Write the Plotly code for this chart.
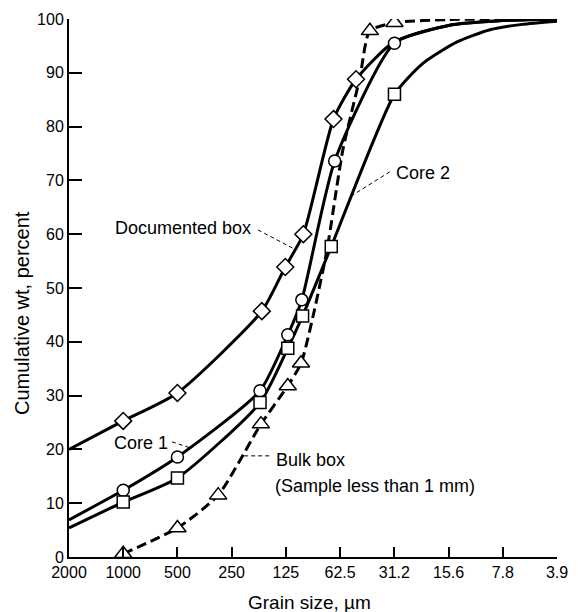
import math

import plotly.graph_objects as go

# grain size ticks (um) and their printed labels
tick_sizes = [2000, 1000, 500, 250, 125, 62.5, 31.25, 15.625, 7.8125, 3.90625]
tick_labels = ["2000", "1000", "500", "250", "125", "62.5", "31.2", "15.6", "7.8", "3.9"]

# measured points (markers)
doc_x = [1000, 500, 170, 126, 100, 68, 51]
doc_y = [25.3, 30.5, 45.7, 53.9, 60.0, 81.4, 88.8]

core1_x = [1000, 500, 174, 122, 102, 67, 31.2]
core1_y = [12.4, 18.6, 30.9, 41.3, 47.8, 73.6, 95.5]

core2_x = [1000, 500, 174, 122, 101, 70, 31.2]
core2_y = [10.2, 14.7, 28.7, 38.8, 44.8, 57.7, 86.0]

bulk_x = [1000, 500, 297, 172, 122, 103, 42.7, 31.2]
bulk_y = [0.6, 5.4, 11.5, 24.7, 31.8, 36.0, 97.8, 99.3]

# unmarked points the drawn curves also pass through
doc_start_x, doc_start_y = [2000], [20.0]
doc_end_x, doc_end_y = [31.5, 15.6, 7.8, 3.9], [95.7, 98.8, 99.7, 100.0]

core1_start_x, core1_start_y = [2000], [6.9]
core1_end_x, core1_end_y = [15.6, 7.8, 3.9], [98.8, 99.7, 100.0]

core2_start_x, core2_start_y = [2000], [5.4]
core2_end_x, core2_end_y = [21.6, 14.1, 9.2, 6.1, 3.9], [91.8, 95.7, 98.0, 99.0, 99.6]

bulk_mid_x, bulk_mid_y = [88, 74, 60.4, 48.6], [45.0, 57.0, 75.6, 89.0]
bulk_end_x, bulk_end_y = [15.6, 3.9], [99.9, 100.0]

FONT = "Liberation Sans, Arial, sans-serif"

fig = go.Figure()


def curve(xs, ys, dash="solid", width=3):
    fig.add_trace(go.Scatter(
        x=xs, y=ys, mode="lines",
        line=dict(color="black", width=width, dash=dash, shape="spline", smoothing=0.6),
        showlegend=False, hoverinfo="skip",
    ))


def points(xs, ys, symbol, size):
    fig.add_trace(go.Scatter(
        x=xs, y=ys, mode="markers",
        marker=dict(symbol=symbol, size=size, color="white", line=dict(color="black", width=1.5)),
        showlegend=False,
    ))


curve(doc_start_x + doc_x + doc_end_x, doc_start_y + doc_y + doc_end_y)
curve(core1_start_x + core1_x + core1_end_x, core1_start_y + core1_y + core1_end_y)
curve(core2_start_x + core2_x + core2_end_x, core2_start_y + core2_y + core2_end_y)
curve(bulk_x[:6] + bulk_mid_x + bulk_x[6:] + bulk_end_x,
      bulk_y[:6] + bulk_mid_y + bulk_y[6:] + bulk_end_y, dash="10px,5px")

points(doc_x, doc_y, "diamond", 13)
points(core1_x, core1_y, "circle", 12)
points(core2_x, core2_y, "square", 12)
points(bulk_x, bulk_y, "triangle-up", 15)

# dashed leader lines for the curve labels
leaders = [
    ([178.6, 111.5], [60.8, 57.2]),
    ([33.1, 53.1], [71.6, 67.3]),
    ([536, 426], [21.4, 20.3]),
    ([213, 151], [18.8, 18.8]),
]
for lx, ly in leaders:
    fig.add_trace(go.Scatter(x=lx, y=ly, mode="lines",
                             line=dict(color="black", width=1, dash="4px,3px"),
                             showlegend=False, hoverinfo="skip"))

label_font = dict(family=FONT, size=18, color="black")
notes = [
    ("Documented box", 0.377, 0.611, "right"),
    ("Core 2", 0.666, 0.714, "left"),
    ("Core 1", 0.207, 0.212, "right"),
    ("Bulk box", 0.420, 0.180, "left"),
    ("(Sample less than 1 mm)", 0.418, 0.132, "left"),
]
for text, x, y, anchor in notes:
    fig.add_annotation(text=text, x=x, y=y, xref="paper", yref="paper",
                       xanchor=anchor, yanchor="middle", showarrow=False, font=label_font)

# axis titles as annotations so they sit where the original put them
fig.add_annotation(text="Grain size, \u00b5m", x=0.492, y=-0.0855, xref="paper", yref="paper",
                   xanchor="center", yanchor="middle", showarrow=False,
                   font=dict(family=FONT, size=19, color="black"))
fig.add_annotation(text="Cumulative wt, percent", x=-0.0963, y=0.4535, xref="paper", yref="paper",
                   xanchor="center", yanchor="middle", showarrow=False, textangle=-90,
                   font=dict(family=FONT, size=20, color="black"))

fig.update_xaxes(
    type="log",
    range=[math.log10(2000), math.log10(3.90625)],
    tickvals=tick_sizes, ticktext=tick_labels,
    ticks="inside", ticklen=10, tickwidth=1.5, tickcolor="black",
    showline=True, linecolor="black", linewidth=2,
    showgrid=False, zeroline=False, automargin=False,
    tickfont=dict(family=FONT, size=16, color="black"),
)
fig.update_yaxes(
    range=[0, 100], dtick=10,
    ticks="inside", ticklen=13, tickwidth=1.5, tickcolor="black",
    showline=True, linecolor="black", linewidth=2,
    showgrid=False, zeroline=False, automargin=False,
    tickfont=dict(family=FONT, size=16, color="black"),
)
# the page body adds an 8px offset, so the figure is 8px smaller on each side
fig.update_layout(
    width=570, height=604,
    margin=dict(l=61, r=21, t=11, b=55),
    plot_bgcolor="white", paper_bgcolor="white",
)

fig.write_html("out.html")
